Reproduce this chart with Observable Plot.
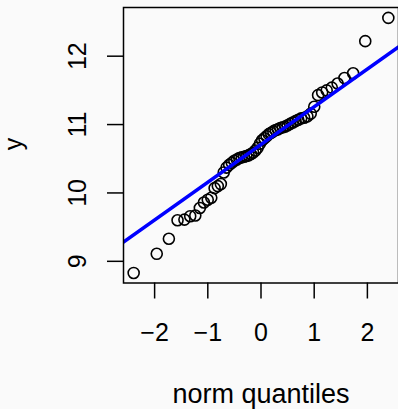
<!DOCTYPE html>
<html><head><meta charset="utf-8">
<script src="https://cdn.jsdelivr.net/npm/d3@7"></script>
<script src="https://cdn.jsdelivr.net/npm/@observablehq/plot@0.6"></script>
<style>
html,body{margin:0;padding:0;background:#fafafa;overflow:hidden;}
</style></head><body><div id="chart"></div>
<script>
// theoretical normal quantiles (x) and sorted sample values (y)
const normQuantiles = [
  -2.394,-1.960,-1.732,-1.569,-1.440,-1.331,-1.235,-1.150,-1.073,-1.001,
  -0.935,-0.872,-0.812,-0.755,-0.701,-0.649,-0.598,-0.549,-0.501,-0.454,
  -0.408,-0.363,-0.319,-0.275,-0.232,-0.189,-0.147,-0.105,-0.063,-0.021,
   0.021, 0.063, 0.105, 0.147, 0.189, 0.232, 0.275, 0.319, 0.363, 0.408,
   0.454, 0.501, 0.549, 0.598, 0.649, 0.701, 0.755, 0.812, 0.872, 0.935,
   1.001, 1.073, 1.150, 1.235, 1.331, 1.440, 1.569, 1.732, 1.960, 2.394
];
const sampleValues = [
   8.83, 9.11, 9.33, 9.60, 9.61, 9.66, 9.67, 9.78, 9.86, 9.90,
   9.93,10.07,10.10,10.13,10.30,10.37,10.41,10.44,10.47,10.49,
  10.51,10.52,10.53,10.54,10.55,10.57,10.59,10.62,10.66,10.72,
  10.77,10.80,10.83,10.86,10.88,10.90,10.92,10.93,10.95,10.96,
  10.97,10.99,11.01,11.03,11.05,11.07,11.09,11.10,11.12,11.16,
  11.26,11.43,11.47,11.50,11.54,11.60,11.68,11.75,12.22,12.56
];
const xTicks = [-2, -1, 0, 1, 2];
const yTicks = [9, 10, 11, 12];
const xDomain = [-2.585, 2.585];
const yDomain = [8.683, 12.712];
const lineIntercept = 10.709;
const lineSlope = 0.552;
const xLabel = "norm quantiles";
const yLabel = "y";

const points = normQuantiles.map((q, i) => ({q, v: sampleValues[i]}));
const refLine = xDomain.map(q => ({q, v: lineIntercept + lineSlope * q}));
const fmt = d => (d < 0 ? "\u2212" + Math.abs(d) : String(d));

const chart = Plot.plot({
  width: 398,
  height: 409,
  marginLeft: 123,
  marginRight: 0,
  marginTop: 7,
  marginBottom: 126.5,
  x: {domain: xDomain},
  y: {domain: yDomain},
  style: {background: "#fafafa", fontFamily: "'Liberation Sans', Arial, sans-serif", color: "black"},
  marks: [
    Plot.axisX({ticks: xTicks, tickSize: 16, tickFormat: () => "", label: null, strokeWidth: 1.5}),
    Plot.axisY({ticks: yTicks, tickSize: 16, tickFormat: () => "", label: null, strokeWidth: 1.5}),
    Plot.text(xTicks, {x: d => d, frameAnchor: "bottom", text: fmt, dy: 50, lineAnchor: "middle", fontSize: 25, fill: "black"}),
    Plot.text(yTicks, {y: d => d, frameAnchor: "left", text: fmt, rotate: -90, dx: -45.5, lineAnchor: "middle", textAnchor: "middle", fontSize: 25, fill: "black"}),
    Plot.text([xLabel], {frameAnchor: "bottom", text: d => d, dy: 111, lineAnchor: "middle", fontSize: 27, fill: "black"}),
    Plot.text([yLabel], {frameAnchor: "left", text: d => d, rotate: -90, dx: -110, dy: 5, lineAnchor: "middle", fontSize: 25, fill: "black"}),
    Plot.dot(points, {x: "q", y: "v", r: 5.5, stroke: "black", strokeWidth: 1.6}),
    Plot.line(refLine, {x: "q", y: "v", stroke: "#0000ff", strokeWidth: 3.5, clip: true}),
    Plot.frame({stroke: "black", strokeWidth: 1.5})
  ]
});
document.getElementById("chart").appendChild(chart);
</script>
</body></html>
